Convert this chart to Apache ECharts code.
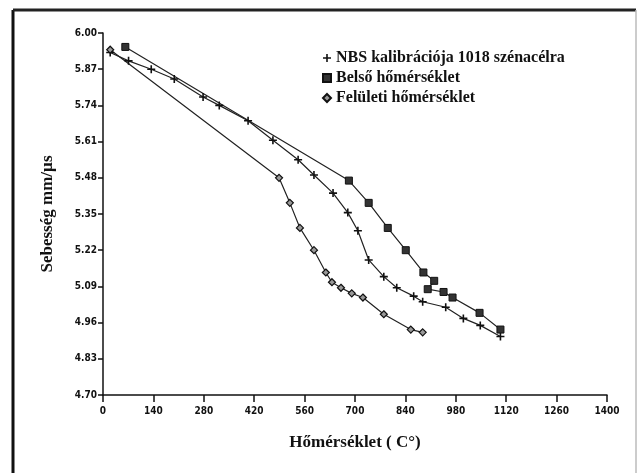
<!DOCTYPE html>
<html>
<head>
<meta charset="utf-8">
<script src="https://cdn.jsdelivr.net/npm/echarts@6/dist/echarts.min.js"></script>
<style>
  html, body { margin: 0; padding: 0; background: #fff; }
  #chart { width: 638px; height: 473px; }
</style>
</head>
<body>
<div id="chart"></div>
<script>
// tick labels
var xTicks = [0, 140, 280, 420, 560, 700, 840, 980, 1120, 1260, 1400];
var yTicks = [4.70, 4.83, 4.96, 5.09, 5.22, 5.35, 5.48, 5.61, 5.74, 5.87, 6.00];

// NBS kalibrációja 1018 szénacélra (+)
var nbsX = [20, 71, 134, 198, 278, 323, 403, 472, 542, 586, 639, 680, 708, 738, 780, 816, 863, 888, 952, 1001, 1048, 1104];
var nbsY = [5.93, 5.90, 5.87, 5.835, 5.77, 5.74, 5.685, 5.615, 5.545, 5.49, 5.425, 5.355, 5.29, 5.185, 5.125, 5.085, 5.055, 5.035, 5.015, 4.975, 4.95, 4.91];

// Belső hőmérséklet (négyzet)
var belsoX = [62, 683, 738, 791, 841, 890, 920, 902, 946, 971, 1046, 1104];
var belsoY = [5.95, 5.47, 5.39, 5.30, 5.22, 5.14, 5.11, 5.08, 5.07, 5.05, 4.995, 4.935];

// Felületi hőmérséklet (rombusz)
var feluletiX = [20, 489, 519, 547, 586, 619, 636, 661, 691, 722, 780, 855, 888];
var feluletiY = [5.94, 5.48, 5.39, 5.30, 5.22, 5.14, 5.105, 5.085, 5.065, 5.05, 4.99, 4.935, 4.925];

var seriesNames = ['NBS kalibrációja 1018 szénacélra', 'Belső hőmérséklet', 'Felületi hőmérséklet'];

function pairs(xs, ys) {
  return xs.map(function (x, i) { return [x, ys[i]]; });
}

var plusPath = 'path://M4,0 L6,0 L6,4 L10,4 L10,6 L6,6 L6,10 L4,10 L4,6 L0,6 L0,4 L4,4 Z';
var serif = '"Liberation Serif", "DejaVu Serif", serif';
var narrow = '"DejaVu Sans Condensed", "DejaVu Sans", sans-serif';

var myChart = echarts.init(document.getElementById('chart'));
var option = {
  backgroundColor: '#fff',
  animation: false,
  graphic: [
    // kép kerete
    { type: 'line', shape: { x1: 13, y1: 10, x2: 13, y2: 473 }, style: { stroke: '#111', lineWidth: 3 } },
    { type: 'line', shape: { x1: 13, y1: 10, x2: 636, y2: 10 }, style: { stroke: '#222', lineWidth: 3 } },
    { type: 'line', shape: { x1: 636, y1: 10, x2: 636, y2: 473 }, style: { stroke: '#bbb', lineWidth: 1.5 } }
  ],
  grid: {
    left: 103,
    right: 31,
    top: 33,
    bottom: 78
  },
  legend: {
    orient: 'vertical',
    left: 317,
    top: 45,
    itemGap: 4,
    itemWidth: 8,
    itemHeight: 8,
    selectedMode: false,
    textStyle: {
      fontFamily: serif,
      fontWeight: 'bold',
      fontSize: 16,
      color: '#111'
    },
    data: [
      { name: seriesNames[0], icon: plusPath },
      { name: seriesNames[1], icon: 'rect' },
      { name: seriesNames[2], icon: 'diamond' }
    ]
  },
  xAxis: {
    type: 'value',
    min: 0,
    max: 1400,
    name: 'Hőmérséklet ( C°)',
    nameLocation: 'middle',
    nameGap: 39,
    nameTextStyle: {
      fontFamily: serif,
      fontWeight: 'bold',
      fontSize: 17,
      color: '#111'
    },
    axisLine: { show: true, lineStyle: { color: '#111', width: 1.5 } },
    axisTick: { show: true, length: 7, customValues: xTicks, lineStyle: { color: '#111', width: 1.5 } },
    axisLabel: {
      color: '#111',
      fontFamily: narrow,
      fontWeight: 'bold',
      fontSize: 10,
      margin: 11,
      customValues: xTicks,
      formatter: function (v) { return String(v); }
    },
    splitLine: { show: false }
  },
  yAxis: {
    type: 'value',
    min: 4.70,
    max: 6.00,
    name: 'Sebesség mm/µs',
    nameLocation: 'middle',
    nameGap: 47,
    nameTextStyle: {
      fontFamily: serif,
      fontWeight: 'bold',
      fontSize: 17,
      color: '#111'
    },
    axisLine: { show: true, lineStyle: { color: '#111', width: 1.5 } },
    axisTick: { show: true, length: 5, customValues: yTicks, lineStyle: { color: '#111', width: 1.5 } },
    axisLabel: {
      color: '#111',
      fontFamily: narrow,
      fontWeight: 'bold',
      fontSize: 10,
      margin: 6,
      customValues: yTicks,
      formatter: function (v) { return v.toFixed(2); }
    },
    splitLine: { show: false }
  },
  series: [
    {
      name: seriesNames[0],
      type: 'line',
      data: pairs(nbsX, nbsY),
      symbol: plusPath,
      symbolSize: 8,
      lineStyle: { color: '#222', width: 1.2 },
      itemStyle: { color: '#111' }
    },
    {
      name: seriesNames[1],
      type: 'line',
      data: pairs(belsoX, belsoY),
      symbol: 'rect',
      symbolSize: 7,
      lineStyle: { color: '#222', width: 1.2 },
      itemStyle: { color: '#333', borderColor: '#111', borderWidth: 1 }
    },
    {
      name: seriesNames[2],
      type: 'line',
      data: pairs(feluletiX, feluletiY),
      symbol: 'diamond',
      symbolSize: 7,
      lineStyle: { color: '#222', width: 1.2 },
      itemStyle: { color: '#999', borderColor: '#111', borderWidth: 1.2 }
    }
  ]
};
option && myChart.setOption(option);
</script>
</body>
</html>
